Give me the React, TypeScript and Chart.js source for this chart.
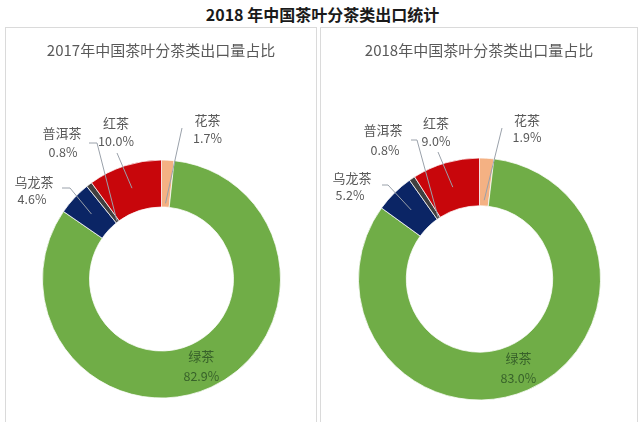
import React, { useEffect, useRef } from "react";
import { Chart, registerables } from "chart.js";

Chart.register(...registerables);

// ---- data ----
const CATEGORIES = ["花茶", "绿茶", "乌龙茶", "普洱茶", "红茶"];
const SHARE_2017 = [1.7, 82.9, 4.6, 0.8, 10.0];
const SHARE_2018 = [1.9, 83.0, 5.2, 0.8, 9.0];
const MAIN_TITLE = "2018 年中国茶叶分茶类出口统计";
const SUBTITLE_2017 = "2017年中国茶叶分茶类出口量占比";
const SUBTITLE_2018 = "2018年中国茶叶分茶类出口量占比";

// ---- styles ----
const COLORS = ["#F4B183", "#70AD47", "#0B2565", "#404040", "#C8060B"];
const FONT = '"Noto Sans CJK SC", "Noto Sans", sans-serif';
const LABEL_COLOR = "#595959";
const INSIDE_LABEL_COLOR = "#38622A";
const LEADER_COLOR = "#9AA1AA";

// label layout, offsets relative to the donut centre (manually placed labels)
type LabelPos = {
  name: [number, number];
  pct: [number, number];
  start: [number, number];
  elbow?: [number, number];
  frac: number;
};
const LAYOUT_2017: Record<string, LabelPos> = {
  花茶: { name: [46, -159], pct: [46, -141], start: [20.5, -151], frac: 0.08 },
  红茶: { name: [-45.5, -156], pct: [-45.5, -138], start: [-44.5, -126], frac: 0.5 },
  普洱茶: { name: [-99.5, -146], pct: [-98.5, -127], start: [-72.5, -136], elbow: [-64.5, -136], frac: 0.03 },
  乌龙茶: { name: [-127.5, -97], pct: [-129.5, -80], start: [-99.5, -91], elbow: [-91.5, -91], frac: 0.5 },
};
const LAYOUT_2018: Record<string, LabelPos> = {
  花茶: { name: [47.5, -159], pct: [47.5, -142], start: [22.5, -151], frac: 0.12 },
  红茶: { name: [-43.5, -156], pct: [-43.5, -138], start: [-41.5, -127], frac: 0.47 },
  普洱茶: { name: [-96.5, -149], pct: [-94.5, -129], start: [-68.5, -139], elbow: [-62.5, -139], frac: 0.02 },
  乌龙茶: { name: [-127.5, -101], pct: [-129.5, -84], start: [-97.5, -94], elbow: [-91.5, -94], frac: 0.5 },
};

const teaLabelPlugin = {
  id: "teaLabels",
  afterDatasetsDraw(chart: any, _args: any, opts: any) {
    const ctx = chart.ctx as CanvasRenderingContext2D;
    const meta = chart.getDatasetMeta(0);
    const values: number[] = chart.data.datasets[0].data;
    const layout: Record<string, LabelPos> = opts.layout;
    ctx.save();
    ctx.textAlign = "center";
    ctx.textBaseline = "middle";
    meta.data.forEach((arc: any, i: number) => {
      const p = arc.getProps(["x", "y", "startAngle", "endAngle", "innerRadius", "outerRadius"], true);
      const mid = (p.startAngle + p.endAngle) / 2;
      const name = CATEGORIES[i];
      const pctText = values[i].toFixed(1) + "%";
      const cfg = layout[name];
      if (!cfg) {
        const r = (p.innerRadius + p.outerRadius) / 2;
        const cx = p.x + r * Math.cos(mid);
        const cy = p.y + r * Math.sin(mid);
        ctx.fillStyle = INSIDE_LABEL_COLOR;
        ctx.font = `13px ${FONT}`;
        ctx.fillText(name, cx, cy - 9.5);
        ctx.font = `12.5px ${FONT}`;
        ctx.fillText(pctText, cx, cy + 10);
        return;
      }
      const r = p.innerRadius + cfg.frac * (p.outerRadius - p.innerRadius);
      const ax = p.x + r * Math.cos(mid);
      const ay = p.y + r * Math.sin(mid);
      ctx.strokeStyle = LEADER_COLOR;
      ctx.lineWidth = 1;
      ctx.beginPath();
      ctx.moveTo(p.x + cfg.start[0], p.y + cfg.start[1]);
      if (cfg.elbow) ctx.lineTo(p.x + cfg.elbow[0], p.y + cfg.elbow[1]);
      ctx.lineTo(ax, ay);
      ctx.stroke();
      ctx.fillStyle = LABEL_COLOR;
      ctx.font = `13px ${FONT}`;
      ctx.fillText(name, p.x + cfg.name[0], p.y + cfg.name[1]);
      ctx.font = `12.5px ${FONT}`;
      ctx.fillText(pctText, p.x + cfg.pct[0], p.y + cfg.pct[1]);
    });
    ctx.restore();
  },
};

type PanelProps = {
  left: number;
  width: number;
  subtitle: string;
  values: number[];
  layout: Record<string, LabelPos>;
  cx: number;
  cy: number;
  radius: number;
};

const PANEL_TOP = 27;
const CANVAS_H = 394;

function DonutPanel({ left, width, subtitle, values, layout, cx, cy, radius }: PanelProps) {
  const ref = useRef<HTMLCanvasElement>(null);
  const canvasW = width - 2;
  useEffect(() => {
    if (!ref.current) return;
    const R = radius + 0.5;
    const chart = new Chart(ref.current, {
      type: "doughnut",
      data: {
        labels: CATEGORIES,
        datasets: [
          {
            data: values,
            backgroundColor: COLORS,
            borderColor: "rgba(255,255,255,0.75)",
            borderWidth: 1,
            hoverOffset: 0,
          },
        ],
      },
      options: {
        responsive: false,
        animation: false,
        devicePixelRatio: 1,
        cutout: "60.5%",
        rotation: 0,
        events: [],
        layout: {
          padding: {
            left: cx - R,
            right: canvasW - cx - R,
            top: cy - R,
            bottom: CANVAS_H - cy - R,
          },
        },
        plugins: {
          legend: { display: false },
          tooltip: { enabled: false },
          title: { display: false },
          teaLabels: { layout },
        } as any,
      },
      plugins: [teaLabelPlugin],
    });
    return () => chart.destroy();
  }, []);
  return (
    <div
      style={{
        position: "absolute",
        left,
        top: PANEL_TOP,
        width,
        height: 420,
        boxSizing: "border-box",
        border: "1px solid #DADADA",
        background: "#fff",
      }}
    >
      <canvas
        ref={ref}
        width={canvasW}
        height={CANVAS_H}
        style={{ position: "absolute", left: 0, top: 0, width: canvasW, height: CANVAS_H }}
      />
      <div
        style={{
          position: "absolute",
          left: 0,
          width: canvasW,
          top: 12,
          height: 20,
          lineHeight: "20px",
          textAlign: "center",
          fontFamily: FONT,
          fontSize: 15,
          color: LABEL_COLOR,
          whiteSpace: "nowrap",
        }}
      >
        {subtitle}
      </div>
    </div>
  );
}

export default function App() {
  return (
    <div
      style={{
        position: "absolute",
        left: 0,
        top: 0,
        width: 640,
        height: 422,
        overflow: "hidden",
        background: "#fff",
        fontFamily: FONT,
      }}
    >
      <div
        style={{
          position: "absolute",
          left: 0,
          top: 4,
          width: 645,
          height: 21,
          lineHeight: "21px",
          textAlign: "center",
          fontWeight: "bold",
          fontSize: 16,
          color: "#1A1A1A",
          whiteSpace: "nowrap",
        }}
      >
        {MAIN_TITLE}
      </div>
      <DonutPanel
        left={5}
        width={312}
        subtitle={SUBTITLE_2017}
        values={SHARE_2017}
        layout={LAYOUT_2017}
        cx={155.5}
        cy={251}
        radius={119}
      />
      <DonutPanel
        left={320}
        width={318}
        subtitle={SUBTITLE_2018}
        values={SHARE_2018}
        layout={LAYOUT_2018}
        cx={158.5}
        cy={251}
        radius={121}
      />
    </div>
  );
}
